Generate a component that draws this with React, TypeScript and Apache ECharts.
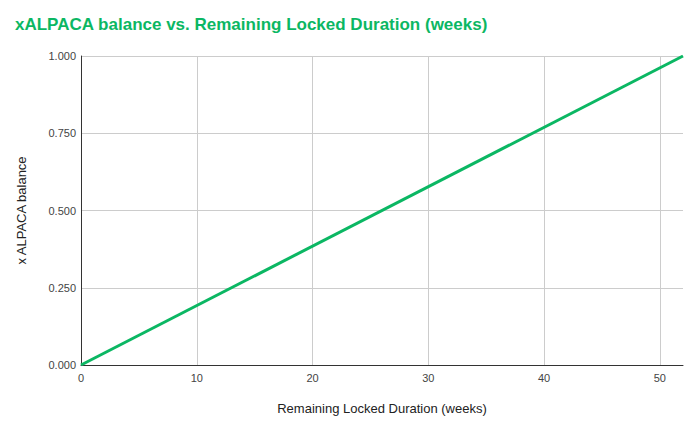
import React, { useEffect, useRef } from "react";
import * as echarts from "echarts";

const weeks = [0, 52];
const balance = [0, 1];
const xTicksMax = 52;
const yTicksMax = 1;

export default function App() {
  const ref = useRef<HTMLDivElement>(null);
  useEffect(() => {
    const chart = echarts.init(ref.current!, null, { renderer: "svg" });
    chart.setOption({
      animation: false,
      backgroundColor: "#ffffff",
      textStyle: { fontFamily: "Liberation Sans, Arial, sans-serif" },
      title: {
        text: "xALPACA balance vs. Remaining Locked Duration (weeks)",
        left: 15,
        top: 16,
        padding: 0,
        textStyle: {
          color: "#0bb763",
          fontSize: 17,
          fontWeight: "bold",
          fontFamily: "Liberation Sans, Arial, sans-serif",
        },
      },
      grid: { left: 81, right: 17, top: 56, bottom: 63, containLabel: false },
      xAxis: {
        type: "value",
        min: 0,
        max: xTicksMax,
        interval: 10,
        name: "Remaining Locked Duration (weeks)",
        nameLocation: "middle",
        nameGap: 37,
        nameTextStyle: { color: "#222", fontSize: 13 },
        axisLine: { show: true, lineStyle: { color: "#333", width: 1 } },
        axisTick: { show: false },
        axisLabel: { color: "#444", fontSize: 11, margin: 7, showMaxLabel: false },
        splitLine: { show: true, showMaxLine: false, lineStyle: { color: "#cccccc", width: 1 } },
      },
      yAxis: {
        type: "value",
        min: 0,
        max: yTicksMax,
        interval: 0.25,
        name: "x ALPACA balance",
        nameLocation: "middle",
        nameGap: 53,
        nameTextStyle: { color: "#222", fontSize: 13 },
        axisLine: { show: true, lineStyle: { color: "#333", width: 1 } },
        axisTick: { show: false },
        axisLabel: {
          color: "#444",
          fontSize: 11,
          margin: 5,
          formatter: (v: number) => v.toFixed(3),
        },
        splitLine: { show: true, lineStyle: { color: "#cccccc", width: 1 } },
      },
      series: [
        {
          type: "line",
          data: weeks.map((w, i) => [w, balance[i]]),
          showSymbol: false,
          symbol: "none",
          lineStyle: { color: "#0bb763", width: 3 },
          itemStyle: { color: "#0bb763" },
        },
      ],
    });
    return () => chart.dispose();
  }, []);
  return <div ref={ref} style={{ width: 700, height: 428, position: "absolute", left: 0, top: 0 }} />;
}
